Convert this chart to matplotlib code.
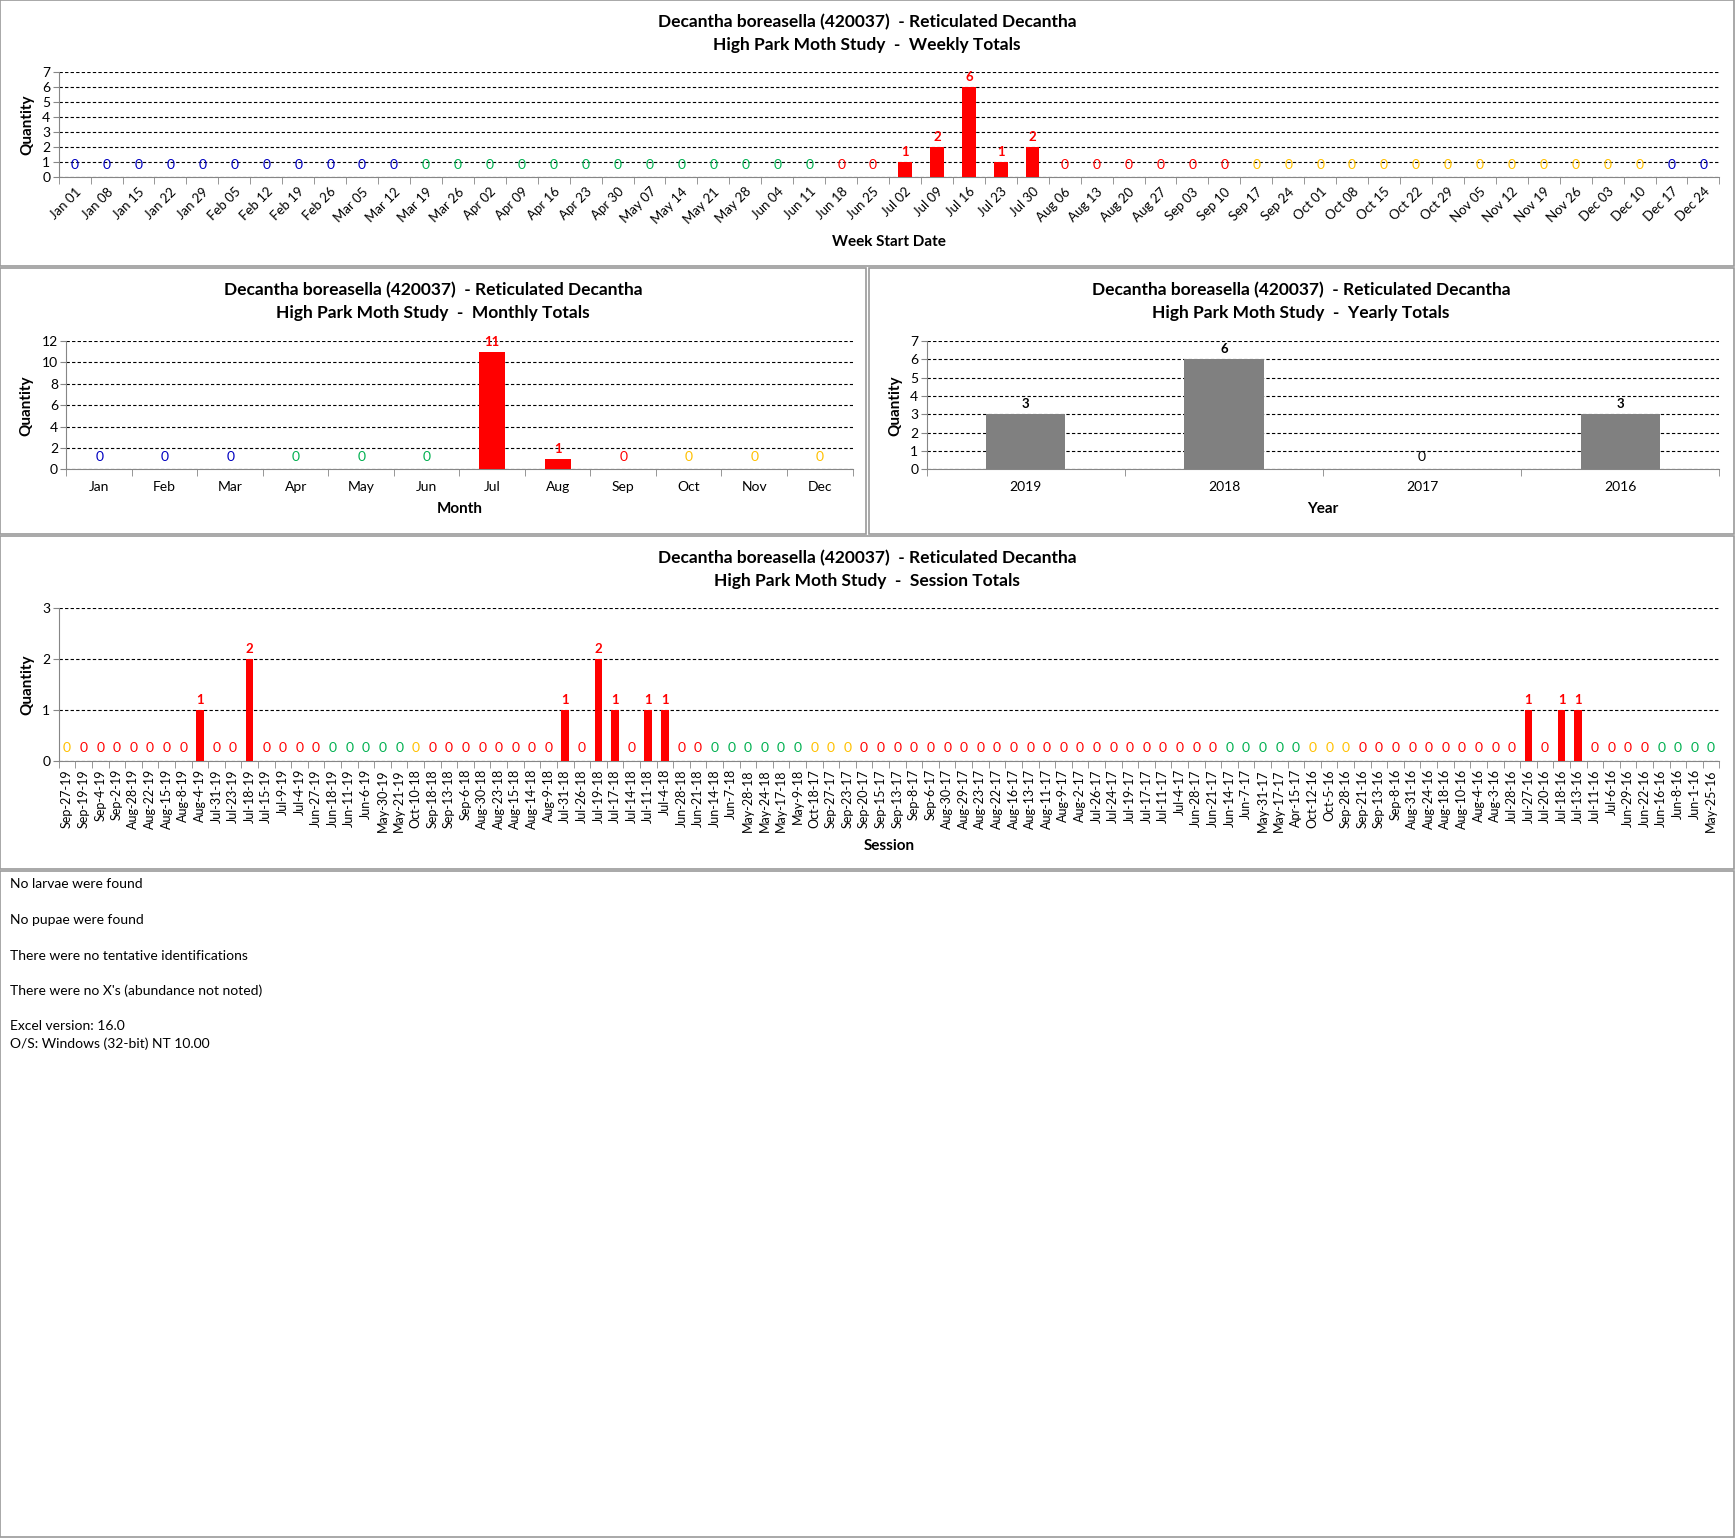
import matplotlib.pyplot as plt
from matplotlib.patches import Rectangle
import datetime as dt

plt.rcParams['font.family'] = ['Lato', 'DejaVu Sans']

TITLE1 = "Decantha boreasella (420037)  - Reticulated Decantha"

week_labels = ["Jan 01", "Jan 08", "Jan 15", "Jan 22", "Jan 29", "Feb 05", "Feb 12", "Feb 19",
               "Feb 26", "Mar 05", "Mar 12", "Mar 19", "Mar 26", "Apr 02", "Apr 09", "Apr 16",
               "Apr 23", "Apr 30", "May 07", "May 14", "May 21", "May 28", "Jun 04", "Jun 11",
               "Jun 18", "Jun 25", "Jul 02", "Jul 09", "Jul 16", "Jul 23", "Jul 30", "Aug 06",
               "Aug 13", "Aug 20", "Aug 27", "Sep 03", "Sep 10", "Sep 17", "Sep 24", "Oct 01",
               "Oct 08", "Oct 15", "Oct 22", "Oct 29", "Nov 05", "Nov 12", "Nov 19", "Nov 26",
               "Dec 03", "Dec 10", "Dec 17", "Dec 24"]
week_values = [0] * 26 + [1, 2, 6, 1, 2] + [0] * 21

month_labels = ["Jan", "Feb", "Mar", "Apr", "May", "Jun", "Jul", "Aug", "Sep", "Oct", "Nov", "Dec"]
month_values = [0, 0, 0, 0, 0, 0, 11, 1, 0, 0, 0, 0]

year_labels = ["2019", "2018", "2017", "2016"]
year_values = [3, 6, 0, 3]

session_labels = [
    "Sep-27-19", "Sep-19-19", "Sep-4-19", "Sep-2-19", "Aug-28-19", "Aug-22-19", "Aug-15-19",
    "Aug-8-19", "Aug-4-19", "Jul-31-19", "Jul-23-19", "Jul-18-19", "Jul-15-19", "Jul-9-19",
    "Jul-4-19", "Jun-27-19", "Jun-18-19", "Jun-11-19", "Jun-6-19", "May-30-19", "May-21-19",
    "Oct-10-18", "Sep-18-18", "Sep-13-18", "Sep-6-18", "Aug-30-18", "Aug-23-18", "Aug-15-18",
    "Aug-14-18", "Aug-9-18", "Jul-31-18", "Jul-26-18", "Jul-19-18", "Jul-17-18", "Jul-14-18",
    "Jul-11-18", "Jul-4-18", "Jun-28-18", "Jun-21-18", "Jun-14-18", "Jun-7-18", "May-28-18",
    "May-24-18", "May-17-18", "May-9-18",
    "Oct-18-17", "Sep-27-17", "Sep-23-17", "Sep-20-17", "Sep-15-17", "Sep-13-17", "Sep-8-17",
    "Sep-6-17", "Aug-30-17", "Aug-29-17", "Aug-23-17", "Aug-22-17", "Aug-16-17", "Aug-13-17",
    "Aug-11-17", "Aug-9-17", "Aug-2-17", "Jul-26-17", "Jul-24-17", "Jul-19-17", "Jul-17-17",
    "Jul-11-17", "Jul-4-17", "Jun-28-17", "Jun-21-17", "Jun-14-17", "Jun-7-17", "May-31-17",
    "May-17-17", "Apr-15-17",
    "Oct-12-16", "Oct-5-16", "Sep-28-16", "Sep-21-16", "Sep-13-16", "Sep-8-16", "Aug-31-16",
    "Aug-24-16", "Aug-18-16", "Aug-10-16", "Aug-4-16", "Aug-3-16", "Jul-28-16", "Jul-27-16",
    "Jul-20-16", "Jul-18-16", "Jul-13-16", "Jul-11-16", "Jul-6-16", "Jun-29-16", "Jun-22-16",
    "Jun-16-16", "Jun-8-16", "Jun-1-16", "May-25-16"]
session_values = (
    [0, 0, 0, 0, 0, 0, 0, 0, 1, 0, 0, 2, 0, 0, 0, 0, 0, 0, 0, 0, 0]
    + [0, 0, 0, 0, 0, 0, 0, 0, 0, 1, 0, 2, 1, 0, 1, 1, 0, 0, 0, 0, 0, 0, 0, 0]
    + [0] * 30
    + [0, 0, 0, 0, 0, 0, 0, 0, 0, 0, 0, 0, 0, 1, 0, 1, 1, 0, 0, 0, 0, 0, 0, 0, 0])

notes = ["No larvae were found", "No pupae were found", "There were no tentative identifications",
         "There were no X's (abundance not noted)", "Excel version: 16.0",
         "O/S: Windows (32-bit) NT 10.00"]

MONTHS = {m: i + 1 for i, m in enumerate(month_labels)}
BLUE, GREEN, RED, YELLOW = '#0000c0', '#00b050', '#ff0000', '#ffc000'


def season_color(month, day):
    md = (month, day)
    if (3, 20) <= md <= (6, 20):
        return GREEN
    if (6, 21) <= md <= (9, 22):
        return RED
    if (9, 23) <= md <= (12, 20):
        return YELLOW
    return BLUE


def week_color(label):
    # colour follows the season at the end of the week
    d = dt.date(2018, MONTHS[label[:3]], int(label[4:])) + dt.timedelta(days=6)
    return season_color(d.month, d.day)


def session_color(label):
    m, d, _ = label.split('-')
    return season_color(MONTHS[m], int(d))


W, H = 1568, 1389


def fx(x):
    return x / W


def fy(y):
    return 1 - y / H


fig = plt.figure(figsize=(17.36, 15.38), dpi=100)

# panel frames
for x0, y0, x1, y1 in [(0, 0, 1566, 240), (0, 242, 782, 482), (785, 242, 1566, 482),
                       (0, 484, 1566, 785), (0, 787, 1566, 1388)]:
    fig.patches.append(Rectangle((fx(x0), fy(y1)), fx(x1 - x0), (y1 - y0) / H,
                                 transform=fig.transFigure, fill=False,
                                 edgecolor='#9a9a9a', linewidth=1.2))


def make_axes(box, labels, values, ymax, ystep, bar_color, label_colors, width,
              xlabel, rot, tick_size, title2, title_x, title_y):
    x0, y0, x1, y1 = box
    ax = fig.add_axes([fx(x0), fy(y1), fx(x1 - x0), (y1 - y0) / H])
    n = len(labels)
    xs = range(n)
    ax.bar(xs, values, width=width, color=bar_color, zorder=3)
    ax.set_xlim(-0.5, n - 0.5)
    ax.set_ylim(0, ymax)
    ax.set_yticks(range(0, ymax + 1, ystep))
    ax.yaxis.grid(True, linestyle=(0, (3, 2)), color='black', linewidth=0.8, zorder=1)
    for s in ['top', 'right']:
        ax.spines[s].set_visible(False)
    for s in ['left', 'bottom']:
        ax.spines[s].set_color('#868686')
    ax.tick_params(axis='y', labelsize=10, length=4, color='#868686', pad=2)
    ax.set_xticks(list(xs))
    ax.set_xticks([i - 0.5 for i in range(n + 1)], minor=True)
    ax.tick_params(axis='x', which='major', length=0, labelsize=tick_size, pad=8)
    ax.tick_params(axis='x', which='minor', length=5, color='#868686')
    if rot == 45:
        ax.set_xticklabels(labels, rotation=45, ha='right', va='top', rotation_mode='anchor')
        ax.tick_params(axis='x', which='major', pad=6)
    elif rot == 90:
        ax.set_xticklabels(labels, rotation=90, ha='center', va='top')
        ax.tick_params(axis='x', which='major', pad=6)
    else:
        ax.set_xticklabels(labels)
    for i, v in enumerate(values):
        if v == 0:
            ax.annotate('0', (i, 0), xytext=(0, 9), textcoords='offset points',
                        ha='center', va='center', fontsize=10, color=label_colors[i], zorder=4)
        else:
            ax.annotate(str(v), (i, v), xytext=(0, 3), textcoords='offset points',
                        ha='center', va='bottom', fontsize=9.5, fontweight='bold',
                        color=label_colors[i], zorder=4)
    ax.set_ylabel('Quantity', fontsize=11, fontweight='bold', labelpad=6)
    ax.set_xlabel(xlabel, fontsize=11, fontweight='bold')
    fig.text(fx(title_x), fy(title_y[0]), TITLE1, ha='center', va='center',
             fontsize=12.5, fontweight='bold')
    fig.text(fx(title_x), fy(title_y[1]), "High Park Moth Study  -  " + title2, ha='center',
             va='center', fontsize=12.5, fontweight='bold')
    return ax


ax_w = make_axes((53, 65, 1553, 160), week_labels, week_values, 7, 1, RED,
                 [week_color(l) for l in week_labels], 0.42, 'Week Start Date', 45, 9.5,
                 'Weekly Totals', 783, (20, 41))
ax_w.xaxis.set_label_coords(0.5, -0.55)

ax_m = make_axes((60, 308, 770, 424), month_labels, month_values, 12, 2, RED,
                 [season_color(MONTHS[m], 15) for m in month_labels], 0.4, 'Month', 0, 10,
                 'Monthly Totals', 391, (262, 283))
ax_m.xaxis.set_label_coords(0.5, -0.25)

ax_y = make_axes((837, 308, 1553, 424), year_labels, year_values, 7, 1, '#808080',
                 ['black'] * 4, 0.4, 'Year', 0, 10, 'Yearly Totals', 1175, (262, 283))
ax_y.xaxis.set_label_coords(0.5, -0.25)

ax_s = make_axes((53, 549, 1553, 687), session_labels, session_values, 3, 1, RED,
                 [session_color(l) for l in session_labels], 0.45, 'Session', 90, 9,
                 'Session Totals', 783, (504, 525))
ax_s.xaxis.set_label_coords(0.5, -0.51)

for txt, y in zip(notes, [798, 831, 863, 895, 927, 943]):
    fig.text(fx(9), fy(y), txt, ha='left', va='center', fontsize=10)

fig.savefig('out.png', dpi=100)
